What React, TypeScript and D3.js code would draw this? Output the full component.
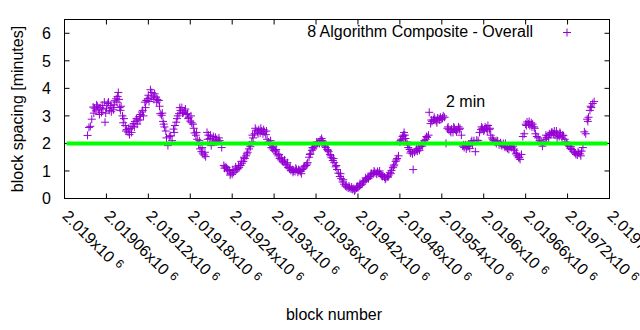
import React from "react";
import * as d3 from "d3";

const seriesName = "8 Algorithm Composite - Overall";
const refLabel = "2 min";
const refValue = 2;
const xTickValues = [2019000, 2019060, 2019120, 2019180, 2019240, 2019300, 2019360, 2019420, 2019480, 2019540, 2019600, 2019660, 2019720, 2019780];
const xTickMantissa = ["2.019", "2.01906", "2.01912", "2.01918", "2.01924", "2.0193", "2.01936", "2.01942", "2.01948", "2.01954", "2.0196", "2.01966", "2.01972", "2.01978"];
const yTickValues = [0, 1, 2, 3, 4, 5, 6];

const blockBase = 2019000;
const blockOffsets = [
  33,35,37,39,41,43,45,47,49,51,53,55,57,58,60,62,64,66,68,70,72,74,76,77,79,81,83,85,87,89,
  91,93,95,97,99,101,103,105,107,109,111,113,115,117,119,121,123,125,127,129,131,133,135,137,139,141,143,145,146,148,
  150,152,154,156,158,160,162,164,166,168,170,172,174,176,178,180,182,184,186,188,190,192,194,196,198,200,202,204,206,208,
  210,212,214,216,218,220,222,225,228,230,232,234,236,238,240,242,244,246,248,250,252,254,256,258,260,262,264,266,268,270,
  272,274,276,278,280,282,284,286,288,290,292,294,296,298,300,302,304,306,308,310,312,314,316,318,320,322,324,326,328,330,
  332,334,336,338,340,342,344,346,348,350,352,354,356,358,360,362,364,366,368,370,372,374,376,378,380,382,384,386,388,390,
  392,394,396,398,400,402,404,406,408,410,412,414,416,418,420,422,424,426,428,430,432,434,436,438,440,442,444,446,448,450,
  452,454,456,458,460,462,464,466,468,470,472,474,476,478,480,482,484,486,488,490,492,494,496,498,499,501,503,505,507,509,
  511,513,515,517,519,521,522,524,526,528,530,532,534,536,538,540,542,544,546,548,550,552,554,556,558,560,562,564,566,568,
  570,572,574,576,578,580,582,584,586,588,590,592,594,596,598,600,602,604,606,608,610,612,614,616,618,620,622,624,626,628,
  630,632,634,636,638,640,642,644,646,648,650,652,654,656,658,660,662,664,666,668,670,672,674,676,678,680,682,684,686,688,
  690,692,694,696,698,700,702,704,706,708,710,712,714,716,718,720,722,724,726,728,730,732,734,736,738,740,742,744,746,748,
  750,752,754,756,758
];
const spacingMinutes = [
  2.29,2.58,2.62,2.88,3.32,3.28,3.18,3.35,3.22,3.3,3.12,3.25,3.5,2.77,3.28,3.45,3.2,3.38,3.3,3.22,3.55,3.62,3.7,3.85,3.3,3.35,3.0,2.9,2.65,2.5,
  2.41,2.32,2.55,2.62,2.72,2.8,2.9,2.85,2.98,3.05,3.14,3.0,3.5,3.56,3.62,3.52,3.95,3.85,3.72,3.8,3.68,3.6,3.56,3.08,3.02,2.8,2.6,2.45,2.2,1.92,
  2.25,2.28,2.1,2.52,2.65,2.77,3.0,3.08,3.2,3.3,3.12,3.18,3.05,3.08,2.95,2.81,2.75,2.7,2.38,2.3,2.15,1.95,1.8,1.7,1.62,1.58,1.52,2.4,2.3,2.18,
  1.92,2.05,2.12,2.22,2.15,2.08,2.1,1.85,1.2,1.15,1.12,1.05,1.02,0.92,0.88,0.95,1.0,1.05,1.08,1.12,1.2,1.28,1.35,1.45,1.55,1.68,1.8,1.88,2.05,2.2,
  2.35,2.48,2.42,2.5,2.38,2.45,2.35,2.42,2.32,2.15,2.05,1.98,1.85,1.8,1.75,1.72,1.62,1.55,1.45,1.4,1.35,1.32,1.25,1.22,1.12,1.08,1.02,1.05,1.0,0.98,
  1.05,0.95,1.02,0.98,1.05,1.1,1.18,1.2,1.3,1.5,1.62,1.75,1.8,1.9,1.95,2.0,2.05,2.12,2.18,2.05,1.95,1.85,1.78,1.7,1.6,1.48,1.38,1.3,1.15,1.05,
  0.92,0.8,0.72,0.6,0.52,0.45,0.42,0.38,0.4,0.35,0.33,0.36,0.32,0.38,0.4,0.45,0.48,0.52,0.6,0.65,0.7,0.75,0.8,0.82,0.88,0.9,0.95,0.92,0.98,0.92,
  0.88,0.85,0.82,0.78,0.75,0.8,0.85,0.95,1.02,1.12,1.22,1.35,1.45,1.55,2.05,2.15,2.25,2.4,2.18,2.05,1.85,1.78,1.7,1.62,1.05,1.68,1.75,1.72,1.82,1.88,
  1.95,2.0,2.1,2.15,2.22,2.3,3.13,2.72,2.8,2.85,2.88,2.82,2.92,2.9,2.95,2.88,3.0,2.95,2.0,2.55,2.5,2.45,2.52,2.4,2.55,2.48,2.5,2.6,2.55,2.3,
  1.9,1.85,1.95,1.88,1.9,1.82,2.05,1.95,2.1,1.7,2.12,2.1,2.4,2.5,2.55,2.45,2.6,2.55,2.65,2.5,2.3,2.2,2.1,2.05,2.0,2.08,1.95,2.02,1.92,2.0,
  1.88,1.85,1.82,1.78,1.88,1.85,1.9,1.75,1.62,1.55,1.48,1.42,1.6,2.25,2.35,2.7,2.78,2.7,2.65,2.75,2.7,2.6,2.35,2.25,2.2,2.1,2.05,1.9,2.05,2.15,
  2.22,2.28,2.35,2.32,2.4,2.35,2.3,2.45,2.3,2.25,2.35,2.2,2.28,2.15,2.05,1.95,1.9,1.82,1.78,1.72,1.68,1.6,1.58,1.65,1.62,1.72,1.85,2.42,2.35,2.88,
  2.95,3.2,3.3,3.45,3.52
];
// further blocks of the same series (denser parts of the cloud)
const moreOffsets = [
  42,46,50,54,59,63,67,71,75,78,80,84,88,92,96,100,104,108,112,116,120,124,128,132,136,140,142,
  157,161,165,169,173,177,181,185,189,193,197,201,205,209,213,217,221,
  229,233,237,241,245,249,253,257,261,265,269,273,277,281,285,289,
  295,299,303,307,311,315,319,323,327,331,335,339,343,347,351,355,361,365,369,373,377,381,385,389,
  395,399,403,407,411,415,419,423,427,431,435,439,443,447,451,455,459,463,467,471,475,
  481,485,487,491,495,504,508,512,518,525,529,533,537,541,549,553,557,561,565,571,575,579,583,
  597,601,605,609,613,619,625,631,637,643,647,651,661,665,669,673,689,693,697,701,705,709,713,719,725,731,735,739,749,753
];
const moreMinutes = [
  3.1,3.4,3.05,3.38,3.1,3.5,3.15,3.4,3.5,3.6,3.2,2.75,2.45,2.55,2.4,2.6,2.7,2.85,3.2,3.3,3.75,3.65,3.6,3.5,3.35,3.1,2.7,
  2.4,2.9,3.3,3.1,3.25,2.9,3.0,2.55,2.4,2.1,1.85,1.68,2.15,2.3,2.25,2.05,2.2,
  1.1,1.0,0.85,1.05,1.15,1.2,1.35,1.5,1.62,1.95,2.3,2.55,2.35,2.55,2.5,2.45,
  2.1,1.9,1.78,1.6,1.48,1.4,1.3,1.15,0.95,1.1,1.05,0.9,1.15,1.25,1.6,1.85,2.05,2.0,2.1,1.9,1.75,1.55,1.45,1.2,
  0.9,0.68,0.5,0.45,0.42,0.28,0.45,0.55,0.6,0.75,0.72,0.92,1.0,0.88,1.0,0.8,0.7,0.78,0.9,1.18,1.4,
  2.1,2.3,2.3,1.95,1.65,1.8,1.75,1.9,2.25,2.85,2.95,2.75,2.85,2.92,2.6,2.4,2.6,2.42,2.5,1.95,1.8,1.95,2.1,
  2.6,2.5,2.45,2.55,2.15,2.1,1.95,2.0,1.9,1.8,1.65,1.5,2.65,2.8,2.6,2.55,2.3,2.2,2.4,2.45,2.2,2.4,2.3,2.0,1.88,1.65,1.7,1.55,2.8,3.35
];

const W = 640;
const H = 330;
const left = 64.5, right = 609.5, top = 19.5, bottom = 198.5;
const FONT = "'Liberation Sans', Arial, sans-serif";
const PURPLE = "#9400d3";
const plusPath = "M-4,0H4M0,-4V4";

export default function App() {
  const x = d3.scaleLinear().domain([2019000, 2019780]).range([left, right]);
  const y = d3.scaleLinear().domain([0, 6.5]).range([bottom, top]);
  const points = blockOffsets
    .map((o, i) => ({ block: blockBase + o, v: spacingMinutes[i] }))
    .concat(moreOffsets.map((o, i) => ({ block: blockBase + o, v: moreMinutes[i] })));
  const tick = 5;
  return (
    <svg width={W} height={H} style={{ position: "absolute", left: 0, top: 0, background: "#fff" }} fontFamily={FONT}>
      <rect x={0} y={0} width={W} height={H} fill="#fff" />
      {yTickValues.map((t) => (
        <g key={"y" + t}>
          <line x1={left} x2={left + tick} y1={y(t)} y2={y(t)} stroke="#000" />
          <line x1={right} x2={right - tick} y1={y(t)} y2={y(t)} stroke="#000" />
          <text x={51} y={y(t)} dy="0.36em" textAnchor="end" fontSize={16} fill="#000">{t}</text>
        </g>
      ))}
      {xTickValues.map((t, i) => (
        <g key={"x" + t}>
          <line x1={x(t)} x2={x(t)} y1={bottom} y2={bottom - tick} stroke="#000" />
          <line x1={x(t)} x2={x(t)} y1={top} y2={top + tick} stroke="#000" />
          <text transform={`translate(${x(t) - 3},${217}) rotate(45)`} fontSize={16} fill="#000">
            {xTickMantissa[i] + "x10"}
            <tspan dx={5} dy={-4} fontSize={12}>6</tspan>
          </text>
        </g>
      ))}
      <g stroke={PURPLE} strokeWidth={1} fill="none">
        {points.map((p, i) => (
          <path key={i} d={plusPath} transform={`translate(${x(p.block)},${y(p.v)})`} />
        ))}
      </g>
      <line x1={left + 2} x2={right - 2} y1={y(refValue)} y2={y(refValue)} stroke="#00ff00" strokeWidth={4} />
      <rect x={left} y={top} width={right - left} height={bottom - top} fill="none" stroke="#000" />
      <text x={533} y={37} textAnchor="end" fontSize={16} fill="#000">{seriesName}</text>
      <path d={plusPath} transform="translate(567,32.5)" stroke={PURPLE} fill="none" />
      <text x={446} y={107} fontSize={16} fill="#000">{refLabel}</text>
      <text transform={`translate(23,${(top + bottom) / 2}) rotate(-90)`} textAnchor="middle" fontSize={16} fill="#000">block spacing [minutes]</text>
      <text x={334} y={320} textAnchor="middle" fontSize={16} fill="#000">block number</text>
    </svg>
  );
}
